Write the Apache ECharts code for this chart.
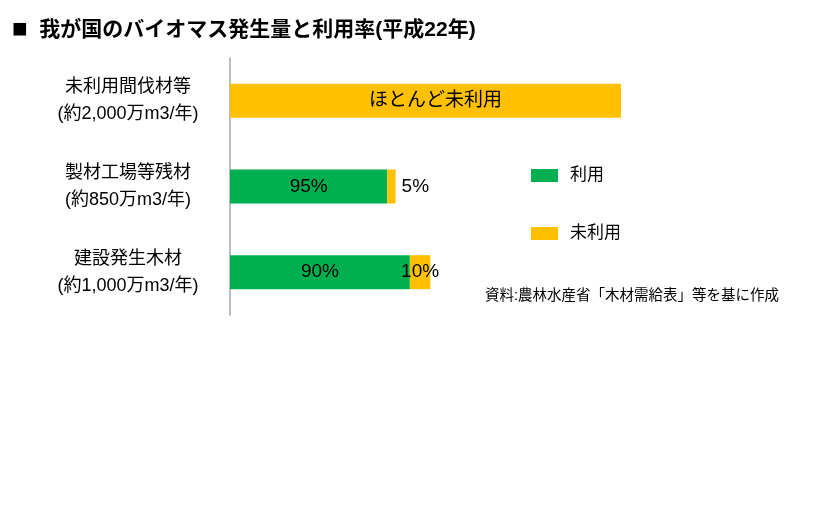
<!DOCTYPE html>
<html>
<head>
<meta charset="utf-8">
<script src="https://cdn.jsdelivr.net/npm/echarts@6/dist/echarts.min.js"></script>
<style>
  html, body { margin: 0; padding: 0; background: #fff; }
  #main { width: 820px; height: 512px; }
</style>
</head>
<body>
<div id="main"></div>
<script>
// 区分（上から順）
var categories = ['未利用間伐材等\n(約2,000万m3/年)', '製材工場等残材\n(約850万m3/年)', '建設発生木材\n(約1,000万m3/年)']
// 発生量（万m3/年）のうち利用・未利用
var usedValues = [0, 805, 920]
var unusedValues = [2000, 42, 105]
// バー上の表示
var usedLabels = ['', '95%', '90%']
var unusedLabels = ['ほとんど未利用', '5%', '10%']

var fontList = "'Liberation Sans', 'Noto Sans CJK JP', sans-serif"

var unusedData = unusedValues.map(function (v, i) {
  var item = { value: v }
  if (i === 0) {
    item.label = { position: 'inside', offset: [10, 0] }
  } else if (i === 1) {
    item.label = { position: 'right', distance: 6 }
  } else {
    item.label = { position: 'inside' }
  }
  return item
})

var option = {
  backgroundColor: '#fff',
  animation: false,
  title: {
    text: '{sq|■}{t|  我が国のバイオマス発生量と利用率(平成22年)}',
    left: 7,
    top: 12,
    textStyle: {
      rich: {
        sq: { fontSize: 26, color: '#000', fontFamily: fontList },
        t: { fontSize: 21, fontWeight: 'bold', color: '#000', fontFamily: fontList }
      }
    }
  },
  legend: {
    orient: 'vertical',
    left: 526,
    top: 162,
    itemWidth: 27,
    itemHeight: 13,
    itemGap: 41,
    icon: 'rect',
    selectedMode: false,
    data: ['利用', '未利用'],
    textStyle: {
      fontFamily: fontList,
      fontSize: 17,
      color: '#000',
      padding: [0, 0, 0, 7]
    }
  },
  graphic: [{
    type: 'text',
    left: 485,
    top: 289,
    style: {
      text: '資料:農林水産省「木材需給表」等を基に作成',
      font: '14.5px ' + fontList,
      fill: '#000'
    }
  }],
  grid: {
    left: 230,
    top: 58,
    width: 391,
    height: 257
  },
  xAxis: {
    type: 'value',
    min: 0,
    max: 2000,
    show: false
  },
  yAxis: {
    type: 'category',
    inverse: true,
    data: categories,
    axisLine: {
      lineStyle: { color: '#a6a6a6', width: 1.5 }
    },
    axisTick: { show: false },
    axisLabel: {
      align: 'center',
      margin: 102,
      fontFamily: fontList,
      fontSize: 18,
      lineHeight: 27,
      color: '#000'
    }
  },
  series: [
    {
      name: '利用',
      type: 'bar',
      stack: 'total',
      barWidth: 34,
      data: usedValues,
      itemStyle: { color: '#00B050' },
      label: {
        show: true,
        position: 'inside',
        fontFamily: fontList,
        fontSize: 19,
        color: '#000',
        formatter: function (p) { return usedLabels[p.dataIndex] }
      }
    },
    {
      name: '未利用',
      type: 'bar',
      stack: 'total',
      barWidth: 34,
      data: unusedData,
      itemStyle: { color: '#FFC000' },
      label: {
        show: true,
        fontFamily: fontList,
        fontSize: 19,
        color: '#000',
        formatter: function (p) { return unusedLabels[p.dataIndex] }
      }
    }
  ]
}

var myChart = echarts.init(document.getElementById('main'))
myChart.setOption(option)
</script>
</body>
</html>
